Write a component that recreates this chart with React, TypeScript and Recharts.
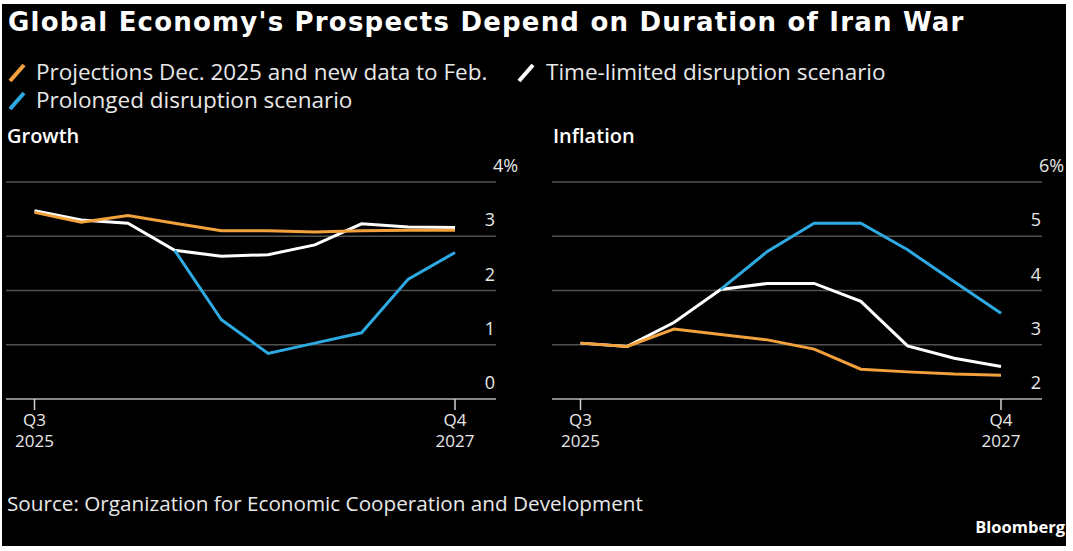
import { LineChart, Line, XAxis, YAxis, CartesianGrid } from "recharts";

const quarters = [
  "Q3 2025",
  "Q4 2025",
  "Q1 2026",
  "Q2 2026",
  "Q3 2026",
  "Q4 2026",
  "Q1 2027",
  "Q2 2027",
  "Q3 2027",
  "Q4 2027",
];

// Growth, %
const growthProjection = [3.44, 3.26, 3.38, 3.24, 3.1, 3.1, 3.08, 3.1, 3.11, 3.11];
const growthLimited = [3.47, 3.3, 3.24, 2.74, 2.63, 2.66, 2.84, 3.23, 3.17, 3.16];
const growthProlonged = [null, null, null, 2.74, 1.46, 0.84, 1.03, 1.22, 2.21, 2.7];

// Inflation, %
const inflationProjection = [3.03, 2.97, 3.29, 3.19, 3.09, 2.92, 2.55, 2.5, 2.46, 2.44];
const inflationLimited = [3.03, 2.97, 3.41, 4.02, 4.13, 4.13, 3.8, 2.98, 2.75, 2.6];
const inflationProlonged = [null, null, null, 4.02, 4.72, 5.24, 5.24, 4.75, 4.16, 3.58];

const growthTicks = [0, 1, 2, 3, 4];
const inflationTicks = [2, 3, 4, 5, 6];

const COLORS = {
  projection: "#f3a13c", // orange
  limited: "#ffffff", // white
  prolonged: "#2eaae2", // blue
  grid: "#505050",
  axis: "#a0a0a0",
  text: "#e8e8e8",
};

const FONT = "'Open Sans', 'Noto Sans', sans-serif";

const toRows = (a: (number | null)[], b: (number | null)[], c: (number | null)[]) =>
  quarters.map((q, i) => ({ q, projection: a[i], limited: b[i], prolonged: c[i] }));

const growthData = toRows(growthProjection, growthLimited, growthProlonged);
const inflationData = toRows(inflationProjection, inflationLimited, inflationProlonged);

const XTick = (props: any) => {
  const { x, y, index, payload } = props;
  if (index !== 0 && index !== quarters.length - 1) return <g />;
  const [q, yr] = String(payload.value).split(" ");
  return (
    <g>
      <line x1={x} x2={x} y1={y} y2={y + 11} stroke="#d0d0d0" strokeWidth={1.5} />
      <text x={x} y={y + 27} textAnchor="middle" fill={COLORS.text} fontSize={17} fontFamily={FONT}>
        {q}
      </text>
      <text x={x} y={y + 48} textAnchor="middle" fill={COLORS.text} fontSize={17} fontFamily={FONT}>
        {yr}
      </text>
    </g>
  );
};

const makeYTick = (top: number) => (props: any) => {
  const { x, y, payload } = props;
  const isTop = payload.value === top;
  return (
    <text
      x={isTop ? x - 3 : x - 1}
      y={y - 10}
      textAnchor={isTop ? "start" : "end"}
      fill={COLORS.text}
      fontSize={18}
      fontFamily={FONT}
    >
      {isTop ? `${payload.value}%` : payload.value}
    </text>
  );
};

const Panel = ({
  left,
  title,
  data,
  ticks,
}: {
  left: number;
  title: string;
  data: any[];
  ticks: number[];
}) => (
  <>
    <div
      style={{
        position: "absolute",
        left: left + 7,
        top: 122,
        color: "#fff",
        fontFamily: FONT,
        fontWeight: 600,
        fontSize: 20,
        lineHeight: "28px",
      }}
    >
      {title}
    </div>
    <div style={{ position: "absolute", left, top: 150 }}>
      <LineChart width={540} height={310} data={data} margin={{ top: 32, right: 0, bottom: 11, left: 6 }}>
        <CartesianGrid horizontal vertical={false} stroke={COLORS.grid} strokeWidth={1.5} />
        <XAxis
          dataKey="q"
          interval={0}
          padding={{ left: 28.5, right: 41 }}
          height={50}
          tickSize={0}
          tickMargin={0}
          tickLine={false}
          axisLine={{ stroke: COLORS.axis, strokeWidth: 1.5 }}
          tick={<XTick />}
        />
        <YAxis
          orientation="right"
          width={44}
          domain={[ticks[0], ticks[ticks.length - 1]]}
          ticks={ticks}
          tickSize={0}
          tickMargin={0}
          tickLine={false}
          axisLine={false}
          tick={makeYTick(ticks[ticks.length - 1])}
        />
        <Line dataKey="limited" stroke={COLORS.limited} strokeWidth={3} dot={false} isAnimationActive={false} />
        <Line dataKey="prolonged" stroke={COLORS.prolonged} strokeWidth={3} dot={false} isAnimationActive={false} />
        <Line dataKey="projection" stroke={COLORS.projection} strokeWidth={3} dot={false} isAnimationActive={false} />
      </LineChart>
    </div>
  </>
);

const Swatch = ({ x, y, color }: { x: number; y: number; color: string }) => (
  <svg style={{ position: "absolute", left: x, top: y }} width={18} height={20}>
    <line x1={2} y1={18} x2={16} y2={2} stroke={color} strokeWidth={4} />
  </svg>
);

const legendText = {
  position: "absolute" as const,
  color: COLORS.text,
  fontFamily: FONT,
  fontSize: 22.5,
  lineHeight: "28px",
  whiteSpace: "nowrap" as const,
};

export default function App() {
  return (
    <div style={{ position: "absolute", left: 0, top: 0, width: 1073, height: 551, background: "#fff", overflow: "hidden" }}>
      <div style={{ position: "absolute", left: 2, top: 4, width: 1064, height: 542, background: "#000" }} />
      <div
        style={{
          position: "absolute",
          left: 8,
          top: 5,
          color: "#fff",
          fontFamily: "'DejaVu Sans', sans-serif",
          fontWeight: 700,
          fontSize: 26,
          letterSpacing: 1.2,
          lineHeight: "34px",
          whiteSpace: "nowrap",
        }}
      >
        Global Economy's Prospects Depend on Duration of Iran War
      </div>

      <Swatch x={8} y={63} color={COLORS.projection} />
      <div style={{ ...legendText, left: 36, top: 58 }}>Projections Dec. 2025 and new data to Feb.</div>
      <Swatch x={517} y={63} color={COLORS.limited} />
      <div style={{ ...legendText, left: 546, top: 58 }}>Time-limited disruption scenario</div>
      <Swatch x={8} y={91} color={COLORS.prolonged} />
      <div style={{ ...legendText, left: 36, top: 86 }}>Prolonged disruption scenario</div>

      <Panel left={0} title="Growth" data={growthData} ticks={growthTicks} />
      <Panel left={546} title="Inflation" data={inflationData} ticks={inflationTicks} />

      <div style={{ ...legendText, left: 7, top: 489, fontSize: 20.7 }}>
        Source: Organization for Economic Cooperation and Development
      </div>
      <div
        style={{
          position: "absolute",
          right: 8,
          top: 515,
          color: "#fff",
          fontFamily: FONT,
          fontWeight: 700,
          fontSize: 16.5,
          lineHeight: "24px",
        }}
      >
        Bloomberg
      </div>
    </div>
  );
}
